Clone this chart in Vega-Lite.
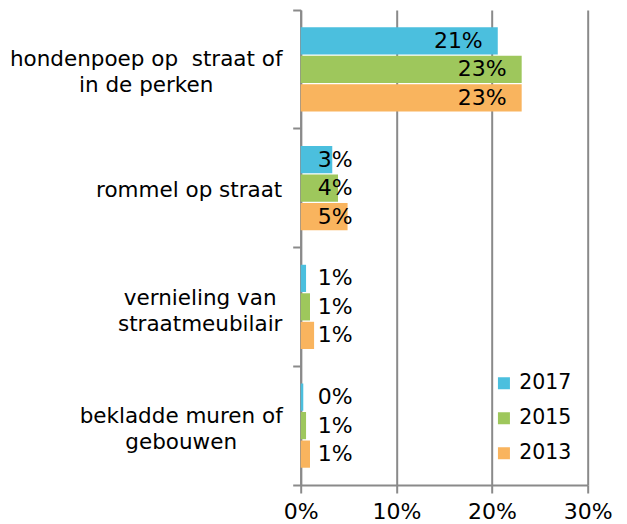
{
  "$schema": "https://vega.github.io/schema/vega-lite/v6.json",
  "width": 287,
  "height": 475,
  "autosize": "none",
  "padding": {"left": 300.7, "top": 10, "right": 39, "bottom": 39},
  "background": "white",
  "config": {"font": "DejaVu Sans", "view": {"stroke": null}},
  "data": {
    "values": [
      {"category": "hondenpoep op  straat of in de perken", "year": "2017", "value": 0.206},
      {"category": "hondenpoep op  straat of in de perken", "year": "2015", "value": 0.231},
      {"category": "hondenpoep op  straat of in de perken", "year": "2013", "value": 0.231},
      {"category": "rommel op straat", "year": "2017", "value": 0.033},
      {"category": "rommel op straat", "year": "2015", "value": 0.039},
      {"category": "rommel op straat", "year": "2013", "value": 0.049},
      {"category": "vernieling van straatmeubilair", "year": "2017", "value": 0.0056},
      {"category": "vernieling van straatmeubilair", "year": "2015", "value": 0.0097},
      {"category": "vernieling van straatmeubilair", "year": "2013", "value": 0.014},
      {"category": "bekladde muren of gebouwen", "year": "2017", "value": 0.0027},
      {"category": "bekladde muren of gebouwen", "year": "2015", "value": 0.0056},
      {"category": "bekladde muren of gebouwen", "year": "2013", "value": 0.0097}
    ]
  },
  "encoding": {
    "x": {
      "field": "value",
      "type": "quantitative",
      "scale": {"domain": [0, 0.3], "nice": false},
      "axis": {
        "values": [0, 0.1, 0.2, 0.3],
        "format": ".0%",
        "title": null,
        "grid": true,
        "gridColor": "#8a8a8a",
        "gridWidth": 2,
        "domainColor": "#8a8a8a",
        "domainWidth": 2,
        "tickColor": "#8a8a8a",
        "tickWidth": 2,
        "tickSize": 8,
        "labelFontSize": 22,
        "labelColor": "black",
        "labelPadding": 9,
        "labelFlush": false
      }
    },
    "yOffset": {
      "field": "year",
      "type": "nominal",
      "sort": ["2017", "2015", "2013"],
      "scale": {"paddingInner": 0.046, "paddingOuter": 0.606}
    }
  },
  "layer": [
    {
      "mark": {"type": "bar"},
      "encoding": {
        "y": {
          "field": "category",
          "type": "nominal",
          "sort": null,
          "scale": {"paddingInner": 0, "paddingOuter": 0},
          "axis": {
            "title": null,
            "ticks": false,
            "tickSize": 0,
            "domain": true,
            "domainColor": "#8a8a8a",
            "domainWidth": 2,
            "labelAlign": "center",
            "labelBaseline": "middle",
            "labelFontSize": 21.5,
            "labelColor": "black",
            "labelLineHeight": 26,
            "labelLimit": 0,
            "labelPadding": {
              "condition": [
                {"test": "datum.value == 'rommel op straat'", "value": 112},
                {"test": "datum.value == 'vernieling van straatmeubilair'", "value": 101},
                {"test": "datum.value == 'bekladde muren of gebouwen'", "value": 120}
              ],
              "value": 155
            },
            "labelOffset": {
              "condition": [
                {"test": "datum.value == 'rommel op straat'", "value": 3},
                {"test": "datum.value == 'vernieling van straatmeubilair'", "value": -8}
              ],
              "value": -9
            },
            "labelExpr": "datum.value == 'hondenpoep op  straat of in de perken' ? ['hondenpoep op\u00a0 straat of', 'in de perken'] : datum.value == 'vernieling van straatmeubilair' ? ['vernieling van', 'straatmeubilair'] : datum.value == 'bekladde muren of gebouwen' ? ['bekladde muren of', 'gebouwen'] : datum.value"
          }
        },
        "color": {
          "field": "year",
          "type": "nominal",
          "sort": ["2017", "2015", "2013"],
          "scale": {"domain": ["2017", "2015", "2013"], "range": ["#4BBFDE", "#9EC75C", "#F9B45E"]},
          "legend": {
            "orient": "none",
            "legendX": 193,
            "legendY": 363,
            "title": null,
            "symbolType": "square",
            "symbolSize": 144,
            "symbolStrokeWidth": 0,
            "labelFontSize": 20.5,
            "labelColor": "black",
            "rowPadding": 14,
            "labelOffset": 5,
            "padding": 0
          }
        }
      }
    },
    {
      "transform": [{"filter": "datum.value > 0.1"}],
      "mark": {"type": "text", "align": "right", "baseline": "middle", "dx": -15, "fontSize": 22, "color": "black"},
      "encoding": {
        "y": {
          "field": "category",
          "type": "nominal",
          "sort": null,
          "axis": {
            "orient": "left",
            "title": null,
            "labels": false,
            "domain": false,
            "ticks": true,
            "tickSize": 8,
            "tickColor": "#8a8a8a",
            "tickWidth": 2,
            "bandPosition": 1,
            "tickExtra": true
          }
        },
        "text": {"field": "value", "type": "quantitative", "format": ".0%"}
      }
    },
    {
      "transform": [{"filter": "datum.value <= 0.1"}],
      "mark": {"type": "text", "align": "left", "baseline": "middle", "dx": 17, "fontSize": 22, "color": "black"},
      "encoding": {
        "x": {"datum": 0, "type": "quantitative"},
        "y": {"field": "category", "type": "nominal", "sort": null, "axis": null},
        "text": {"field": "value", "type": "quantitative", "format": ".0%"}
      }
    }
  ],
  "resolve": {"axis": {"y": "independent"}}
}
